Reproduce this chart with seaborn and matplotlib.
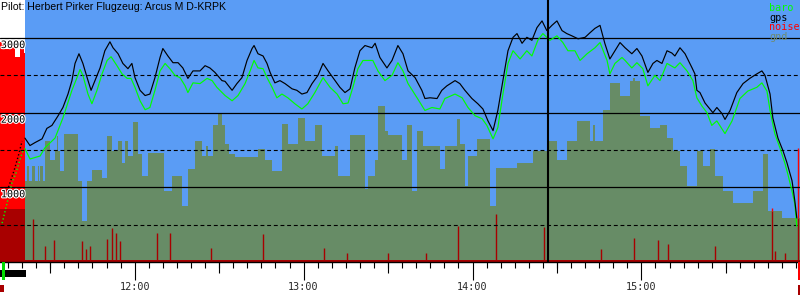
import numpy as np
import matplotlib
matplotlib.use("Agg")
import matplotlib.pyplot as plt
import seaborn as sns
from matplotlib import patheffects as pe
from matplotlib.transforms import blended_transform_factory
from matplotlib.patches import Rectangle

# ---------------- data (time = minutes after 11:00, altitude in m) ----------------
title_text = "Pilot: Herbert Pirker Flugzeug: Arcus M D-KRPK"
hour_ticks = [60, 120, 180, 240]
hour_labels = ["12:00", "13:00", "14:00", "15:00"]
half_hour_ticks = [30, 90, 150, 210, 270]
alt_solid = [1000, 2000, 3000]
alt_dashed = [500, 1500, 2500]
legend_names = ["baro", "gps", "noise", "gnd"]

t_start = 12.15
t_end = 296.34
sky_start = 21.0
cursor_t = 206.8
noise_floor = 25

gps_climb = [(14.3, 910), (15.7, 1060), (17.1, 1220), (18.5, 1400), (20.0, 1620)]
baro_climb = [(12.9, 520), (14.6, 780), (16.4, 1060), (17.8, 1190), (19.3, 1380), (20.3, 1490)]

gps_track = [(21.0, 1660), (22.8, 1560), (24.6, 1600), (27.1, 1650), (28.8, 1790), (30.6, 1830),
             (32.8, 1960), (34.5, 2070), (36.3, 2250), (37.7, 2430), (38.8, 2660), (40.2, 2790),
             (41.6, 2660), (43.1, 2470), (44.5, 2300), (45.9, 2430), (47.7, 2600), (49.4, 2830),
             (51.2, 2950), (52.3, 2870), (54.1, 2790), (55.8, 2660), (57.6, 2590), (59.0, 2660),
             (60.1, 2470), (61.9, 2300), (63.7, 2230), (65.4, 2250), (67.2, 2470), (69.0, 2740),
             (70.0, 2860), (71.8, 2760), (73.6, 2670), (75.4, 2670), (77.1, 2600), (78.9, 2460),
             (80.7, 2560), (83.2, 2560), (85.0, 2630), (86.7, 2600), (88.5, 2540), (91.0, 2430),
             (92.1, 2420), (94.6, 2300), (96.3, 2390), (98.1, 2470), (99.9, 2700), (101.7, 2860),
             (102.4, 2900), (103.8, 2790), (105.6, 2760), (107.0, 2660), (108.1, 2540), (109.8, 2400),
             (111.6, 2430), (113.4, 2390), (115.9, 2320), (117.6, 2300), (119.4, 2250), (121.2, 2270),
             (123.0, 2390), (125.1, 2500), (126.9, 2660), (128.7, 2560), (130.4, 2470), (132.9, 2340),
             (134.7, 2270), (136.5, 2320), (138.2, 2600), (140.0, 2830), (141.8, 2900), (144.3, 2870),
             (145.4, 2930), (147.1, 2740), (149.6, 2600), (151.4, 2700), (153.5, 2900), (155.3, 2790),
             (157.1, 2560), (159.6, 2470), (162.0, 2300), (163.1, 2190), (164.9, 2200), (167.4, 2190),
             (169.1, 2300), (170.9, 2360), (173.8, 2430), (175.5, 2390), (177.3, 2300), (179.8, 2190),
             (181.9, 2120), (183.7, 2050), (185.5, 1890), (187.3, 1760), (189.0, 2030), (190.8, 2430),
             (192.6, 2830), (194.4, 3010), (195.8, 3060), (197.6, 2930), (199.3, 3010), (201.1, 2970),
             (202.9, 3140), (204.7, 3230), (206.4, 3100), (208.2, 3170), (210.0, 3230), (211.8, 3100),
             (213.5, 3060), (215.3, 3030), (217.5, 2990), (220.0, 3010), (221.7, 3070), (223.5, 3130),
             (225.3, 3170), (227.0, 2930), (228.8, 2720), (230.6, 2830), (232.4, 2940), (234.2, 2870),
             (236.6, 2790), (238.4, 2860), (240.2, 2760), (242.3, 2540), (244.1, 2660), (245.5, 2700),
             (247.3, 2660), (249.1, 2830), (250.8, 2800), (251.9, 2760), (253.7, 2870), (255.5, 2790),
             (258.0, 2600), (259.0, 2520), (259.7, 2300), (260.8, 2270), (262.6, 2130), (264.3, 2050),
             (265.4, 2000), (266.8, 2070), (268.6, 1990), (269.7, 1910), (271.5, 2030), (273.9, 2270),
             (276.1, 2390), (278.5, 2460), (281.0, 2520), (282.8, 2560), (283.9, 2500), (285.7, 2250),
             (286.7, 1930), (288.5, 1660), (290.3, 1490), (291.7, 1330), (293.5, 1090), (294.5, 820),
             (295.2, 590)]

baro_track = [(21.0, 1520), (22.8, 1380), (26.4, 1420), (28.1, 1530), (31.7, 1660), (34.5, 1930),
              (37.7, 2300), (39.5, 2470), (40.6, 2580), (41.6, 2500), (43.4, 2250), (44.8, 2120),
              (46.6, 2300), (48.4, 2520), (50.2, 2700), (51.6, 2750), (53.7, 2630), (55.5, 2520),
              (57.3, 2460), (58.7, 2460), (60.1, 2340), (61.9, 2160), (63.7, 2040), (65.4, 2070),
              (67.2, 2300), (69.0, 2560), (70.8, 2660), (72.5, 2590), (74.3, 2500), (76.1, 2470),
              (77.9, 2360), (78.9, 2270), (80.7, 2400), (83.2, 2390), (85.7, 2460), (87.5, 2430),
              (89.2, 2340), (92.1, 2230), (94.6, 2160), (96.7, 2230), (99.2, 2390), (101.0, 2560),
              (102.4, 2700), (103.8, 2600), (105.6, 2590), (107.0, 2470), (108.8, 2340), (110.5, 2200),
              (112.3, 2250), (114.4, 2200), (116.9, 2120), (119.4, 2050), (121.5, 2120), (124.0, 2270),
              (126.9, 2470), (129.4, 2340), (131.9, 2250), (134.0, 2120), (135.8, 2130), (137.5, 2340),
              (139.3, 2590), (141.1, 2700), (144.6, 2700), (146.4, 2560), (148.9, 2430), (151.4, 2500),
              (153.5, 2670), (155.3, 2560), (157.1, 2390), (160.3, 2200), (163.1, 2030), (165.6, 2070),
              (168.4, 2050), (170.2, 2190), (173.8, 2250), (176.3, 2200), (178.4, 2070), (180.9, 1960),
              (183.4, 1920), (185.1, 1830), (187.3, 1650), (189.0, 1800), (190.8, 2250), (192.6, 2660),
              (194.4, 2830), (196.9, 2720), (199.3, 2830), (201.1, 2760), (203.2, 2970), (205.0, 3060),
              (207.5, 2970), (210.0, 3030), (212.1, 2940), (213.9, 2830), (216.4, 2830), (218.2, 2700),
              (220.7, 2790), (223.5, 2870), (225.3, 2940), (227.8, 2700), (228.8, 2520), (230.6, 2660),
              (233.1, 2740), (234.2, 2700), (236.6, 2600), (238.4, 2670), (240.5, 2590), (242.3, 2360),
              (244.8, 2500), (246.6, 2430), (249.1, 2660), (251.9, 2600), (253.7, 2670), (256.2, 2560),
              (258.3, 2430), (259.7, 2200), (261.5, 2090), (263.3, 2000), (265.0, 1830), (266.8, 1890),
              (269.0, 1760), (269.7, 1720), (272.2, 1890), (275.0, 2190), (277.8, 2290), (281.0, 2340),
              (282.8, 2400), (284.6, 2290), (285.7, 2030), (287.4, 1720), (289.2, 1530), (291.0, 1320),
              (292.0, 1180), (293.5, 950), (294.5, 780), (295.2, 480)]

ground_profile = [(12.15, 710), (21.0, 1090), (21.7, 1290), (22.4, 1090), (23.5, 1290), (24.6, 1090),
                  (25.6, 1290), (26.0, 1090), (26.4, 1290), (27.4, 1090),
                  (28.1, 1620), (29.9, 1360), (31.7, 1490), (32.3, 1690), (32.7, 1490), (33.5, 1220),
                  (34.9, 1720), (39.9, 1090),
                  (41.3, 550), (43.1, 1090), (44.8, 1230), (48.4, 1130), (50.2, 1690), (52.0, 1490),
                  (54.1, 1620), (55.5, 1320), (56.6, 1620), (57.6, 1420), (59.4, 1870), (61.2, 1450),
                  (62.6, 1150), (64.7, 1460), (70.4, 950), (73.2, 1150), (76.8, 750), (78.9, 1250),
                  (81.4, 1620), (83.9, 1420), (85.4, 1560), (86.1, 1420), (87.8, 1830), (89.6, 2000),
                  (91.0, 1830), (92.1, 1580),
                  (93.5, 1450), (95.6, 1400), (103.8, 1520), (106.3, 1360), (108.8, 1220), (112.3, 1850),
                  (114.4, 1580), (118.0, 1930), (120.5, 1620), (124.0, 1830), (126.5, 1420), (131.1, 1560),
                  (132.2, 1150), (136.5, 1700), (141.8, 980), (142.9, 1150), (145.4, 1360), (146.4, 2090),
                  (148.9, 1760), (150.0, 1700), (154.9, 1360), (156.7, 1830), (158.5, 950), (160.3, 1760),
                  (162.4, 1560), (168.4, 1250), (170.2, 1560), (174.5, 1920), (175.5, 1580), (177.3, 1020),
                  (178.4, 1420), (181.6, 1650), (186.2, 750), (188.3, 1260), (195.8, 1330), (201.5, 1490),
                  (206.4, 1620), (210.0, 1360), (213.5, 1620), (217.1, 1890), (221.7, 1620), (222.9, 1830),
                  (223.6, 1620), (226.3, 2030),
                  (228.8, 2400), (232.4, 2230), (235.9, 2430), (237.0, 2460), (237.7, 2430), (239.5, 1960),
                  (243.0, 1800), (246.6, 1830),
                  (249.1, 1660), (251.2, 1490), (253.7, 1290), (256.2, 1020), (259.7, 1490), (261.9, 1290),
                  (264.3, 1520), (266.1, 1150), (269.0, 950), (272.5, 790), (279.6, 950), (283.2, 1450),
                  (284.8, 680), (289.9, 590), (296.34, 590)]

noise_start = [(12.15, 2950), (13.9, 2850), (15.7, 2900), (17.5, 2750), (19.2, 2880), (20.6, 2800),
               (21.0, 2800)]

noise_spikes = [(23.9, 577), (28.1, 215), (31.3, 295), (41.3, 280), (42.7, 170), (44.1, 215),
                (50.2, 310), (52.0, 456), (53.4, 389), (54.8, 282), (67.9, 389), (72.5, 389),
                (87.1, 188), (105.6, 376), (127.2, 188), (135.4, 121), (150.0, 121), (163.5, 121),
                (174.8, 483), (188.3, 644), (205.4, 470), (225.6, 174), (237.3, 322), (245.9, 295),
                (249.4, 242), (266.1, 215), (286.4, 725), (287.4, 148), (291.0, 121), (295.6, 1530)]

# bottom event strip: (start, end) in minutes
launch_mark = (12.85, 13.9)
engine_run = (12.15, 21.4)
start_mark = (12.15, 13.55)
finish_mark = (295.6, 296.3)

# ---------------- styling ----------------
SKY = "#5a9cf5"
GND = "#678c66"
DARKRED = "#a80000"
RED = "#ff0000"
BARO = "#00ff00"
MONO = "DejaVu Sans Mono"

sns.set_theme(style="white")
plt.rcParams["font.family"] = ["Liberation Sans", "DejaVu Sans"]

fig = plt.figure(figsize=(8, 3), dpi=100)
fig.patch.set_facecolor("white")
ax = fig.add_axes([0, 38 / 300, 1, 262 / 300])
ax.set_facecolor(SKY)
ax.set_xlim(t_start, t_end)
ax.set_ylim(0, 3510)

ax.axvspan(t_start, sky_start, color="white", lw=0, zorder=0.5)

g_t = np.array([p[0] for p in ground_profile])
g_v = np.array([p[1] for p in ground_profile], dtype=float)


def ground_at(t):
    idx = np.clip(np.searchsorted(g_t, t, side="right") - 1, 0, len(g_v) - 1)
    return g_v[idx]


mask = g_t >= sky_start
ax.fill_between(g_t[mask], 0, g_v[mask], step="post", color=GND, lw=0, zorder=1)

# noise floor
ax.fill_between([sky_start, t_end], 0, noise_floor, color=DARKRED, lw=0, zorder=1.5)

# high noise at start (engine)
ns_t = np.array([p[0] for p in noise_start])
ns_v = np.array([p[1] for p in noise_start], dtype=float)
ns_g = ground_at(ns_t)
ax.fill_between(ns_t, 0, np.minimum(ns_v, ns_g), step="post", color=DARKRED, lw=0, zorder=1.6)
ax.fill_between(ns_t, ns_g, ns_v, step="post", color=RED, lw=0, zorder=1.6)

# noise spikes
sp_t = np.array([p[0] for p in noise_spikes])
sp_v = np.array([p[1] for p in noise_spikes], dtype=float)
sp_g = ground_at(sp_t)
ax.vlines(sp_t, 0, np.minimum(sp_v, sp_g), color=DARKRED, lw=1.0, zorder=1.7)
hi = sp_v > sp_g
ax.vlines(sp_t[hi], sp_g[hi], sp_v[hi], color=RED, lw=1.0, zorder=1.7)

# grid lines
for v in alt_solid:
    ax.axhline(v, color="black", lw=0.9, zorder=2)
for v in alt_dashed:
    ax.axhline(v, color="black", lw=0.8, ls=(0, (3.5, 2.5)), zorder=2)

# climb dots
ax.plot([p[0] for p in baro_climb], [p[1] for p in baro_climb], ls=":", lw=1.0, color=BARO, zorder=3)
ax.plot([p[0] for p in gps_climb], [p[1] for p in gps_climb], ls=":", lw=1.0, color="black", zorder=3)

# baro + gps tracks
sns.lineplot(x=[p[0] for p in baro_track], y=[p[1] for p in baro_track], color=BARO, lw=0.85,
             estimator=None, sort=False, ax=ax, zorder=3)
sns.lineplot(x=[p[0] for p in gps_track], y=[p[1] for p in gps_track], color="black", lw=0.85,
             estimator=None, sort=False, ax=ax, zorder=3.1)

ax.axvline(cursor_t, color="black", lw=1.5, zorder=3.2)

# altitude labels
bt = blended_transform_factory(ax.transAxes, ax.transData)
for v in alt_solid:
    ax.annotate(str(v), xy=(0, v), xycoords=bt, xytext=(0.6, -1.4), textcoords="offset points",
                ha="left", va="top", fontsize=7.3, family=MONO, color="black", zorder=5,
                path_effects=[pe.withStroke(linewidth=1.6, foreground="white")])

# axes/ticks
for s in ["top", "left", "right"]:
    ax.spines[s].set_visible(False)
ax.spines["bottom"].set_color("black")
ax.spines["bottom"].set_linewidth(1.0)
ax.set_yticks([])
ax.set_xticks(hour_ticks)
ax.set_xticklabels(hour_labels, family=MONO, fontsize=7.3)
ax.set_xticks(np.arange(15, 296, 5), minor=True)
ax.tick_params(axis="x", which="major", length=13, width=0.8, color="black", pad=1.5, direction="out",
               bottom=True)
ax.tick_params(axis="x", which="minor", length=4.3, width=0.8, color="black", direction="out", bottom=True)
ax.set_xlabel("")
ax.set_ylabel("")

sec = ax.secondary_xaxis("bottom")
sec.set_xticks(half_hour_ticks)
sec.tick_params(axis="x", length=8, width=0.8, color="black", labelbottom=False, direction="out")
sec.spines["bottom"].set_visible(False)

# bottom event markers
et = blended_transform_factory(ax.transData, fig.transFigure)


def ev(span, ytop_px, ybot_px, color):
    ax.add_patch(Rectangle((span[0], (300 - ybot_px) / 300), span[1] - span[0], (ybot_px - ytop_px) / 300,
                           transform=et, clip_on=False, color=color, lw=0, zorder=6))


ev(engine_run, 270, 277, "black")
ev(launch_mark, 262, 280, "#00dd00")
ev(start_mark, 285, 292, DARKRED)
ev(finish_mark, 262, 280, RED)
ev(finish_mark, 285, 295, DARKRED)

# title
fig.text(1 / 800, 1 - 1.5 / 300, title_text, ha="left", va="top", fontsize=7.6, color="black",
         family=["Liberation Sans", "DejaVu Sans"])

# legend text
legend_colors = [BARO, "black", RED, "#6e8c6e"]
for i, (name, c) in enumerate(zip(legend_names, legend_colors)):
    fig.text(769 / 800, 1 - (3 + 9.7 * i) / 300, name, ha="left", va="top", fontsize=7.3,
             family=MONO, color=c)

fig.savefig("out.png", dpi=100)
